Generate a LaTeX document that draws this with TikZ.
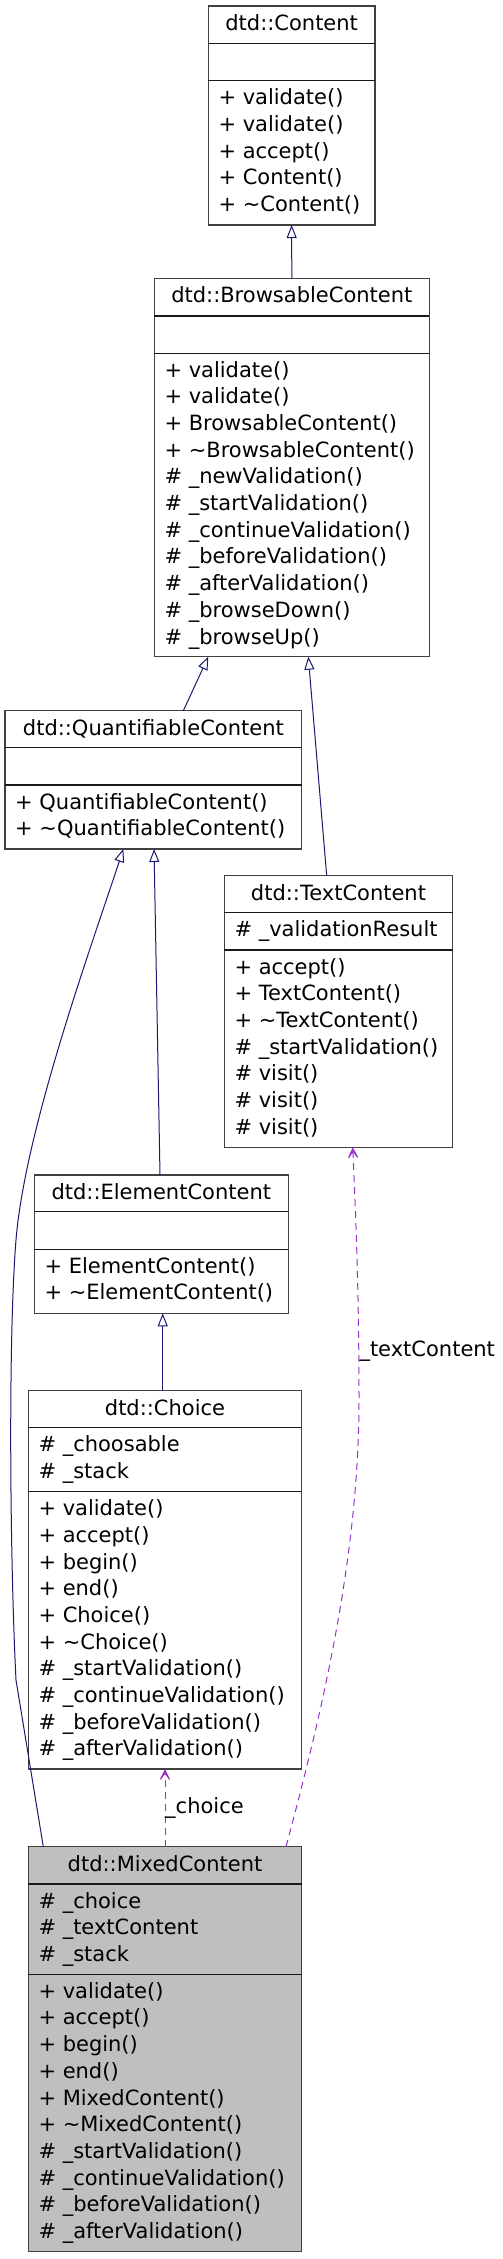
\documentclass[tikz,border=0pt]{standalone}
\usepackage{fontspec}
\setmainfont{DejaVu Sans}
\usetikzlibrary{arrows.meta}
\definecolor{edgeblue}{HTML}{191970}
\definecolor{depcol}{HTML}{9A32CD}
\definecolor{mixfill}{HTML}{BFBFBF}
\definecolor{boxline}{HTML}{404040}
\tikzset{
  classbox/.style={draw=boxline, line width=1.2pt, anchor=north west, inner sep=0pt, outer sep=0pt},
  sepline/.style={draw=black!90, line width=1.05pt},
  umlfont/.style={font=\fontsize{21}{26.67}\selectfont, inner sep=0pt},
  headtext/.style={umlfont, anchor=base},
  memtext/.style={umlfont, anchor=base west},
  lbl/.style={umlfont, anchor=base west},
  inh/.style={draw=edgeblue, line width=1pt, -{Triangle[open, length=13pt, width=10pt]}},
  dep/.style={draw=depcol, line width=1pt, dash pattern=on 7pt off 5pt, -{Stealth[length=15pt, width=15pt, inset=10pt]}}
}
\newcommand\umlclass[8]{%
  \node[classbox, fill=#8, minimum width={(#4-#2)*1pt}, minimum height={(#5-#3)*1pt}] (#1) at (#2,#3) {};
  \draw[sepline] (#2,#6) -- (#4,#6);
  \draw[sepline] (#2,#7) -- (#4,#7);
}
\newcommand\memlist[4]{%
  \foreach \t [count=\i from 0] in {#4} {\node[memtext] (#1\i) at ({#2},{#3+\i*26.67}) {\t};}
}
\begin{document}
\begin{tikzpicture}[x=1pt, y=-1pt]
\useasboundingbox (0,0) rectangle (503,2259);

% dtd::Content
\umlclass{content}{208.3}{6}{375}{225}{43.3}{80.7}{white}
\node[headtext] (content-h) at (291.65,30.3) {dtd::Content};
\memlist{content-m}{218.3}{104.7}{+ validate(),+ validate(),+ accept(),+ Content(),+ \textasciitilde Content()}

% dtd::BrowsableContent
\umlclass{browsable}{154.3}{278.3}{429.3}{656.7}{316}{353.3}{white}
\node[headtext] (browsable-h) at (291.8,302.6) {dtd::BrowsableContent};
\memlist{browsable-m}{164.3}{377.3}{+ validate(),+ validate(),+ BrowsableContent(),+ \textasciitilde BrowsableContent(),\# \_newValidation(),\# \_startValidation(),\# \_continueValidation(),\# \_beforeValidation(),\# \_afterValidation(),\# \_browseDown(),\# \_browseUp()}

% dtd::QuantifiableContent
\umlclass{quant}{5}{710.7}{301.7}{849}{747.7}{785}{white}
\node[headtext] (quant-h) at (153.35,735) {dtd::QuantifiableContent};
\memlist{quant-m}{15}{809}{+ QuantifiableContent(),+ \textasciitilde QuantifiableContent()}

% dtd::TextContent
\umlclass{text}{224.3}{875.7}{452.7}{1147.3}{912.7}{950}{white}
\node[headtext] (text-h) at (338.5,900) {dtd::TextContent};
\memlist{text-a}{234.3}{936.7}{\# \_validationResult}
\memlist{text-m}{234.3}{974}{+ accept(),+ TextContent(),+ \textasciitilde TextContent(),\# \_startValidation(),\# visit(),\# visit(),\# visit()}

% dtd::ElementContent
\umlclass{elem}{34.3}{1175}{288.3}{1313.3}{1211.7}{1249.3}{white}
\node[headtext] (elem-h) at (161.3,1199.3) {dtd::ElementContent};
\memlist{elem-m}{44.3}{1273.3}{+ ElementContent(),+ \textasciitilde ElementContent()}

% dtd::Choice
\umlclass{choice}{28.3}{1390.7}{301.7}{1769}{1427.7}{1491.7}{white}
\node[headtext] (choice-h) at (165,1415) {dtd::Choice};
\memlist{choice-a}{38.3}{1451.7}{\# \_choosable,\# \_stack}
\memlist{choice-m}{38.3}{1515.7}{+ validate(),+ accept(),+ begin(),+ end(),+ Choice(),+ \textasciitilde Choice(),\# \_startValidation(),\# \_continueValidation(),\# \_beforeValidation(),\# \_afterValidation()}

% dtd::MixedContent
\umlclass{mixed}{28.3}{1846.7}{301.7}{2251.7}{1884}{1974.3}{mixfill}
\node[headtext] (mixed-h) at (165,1871) {dtd::MixedContent};
\memlist{mixed-a}{38.3}{1908}{\# \_choice,\# \_textContent,\# \_stack}
\memlist{mixed-m}{38.3}{1998.3}{+ validate(),+ accept(),+ begin(),+ end(),+ MixedContent(),+ \textasciitilde MixedContent(),\# \_startValidation(),\# \_continueValidation(),\# \_beforeValidation(),\# \_afterValidation()}

% inheritance edges
\draw[inh] (browsable.north) -- (content.south);
\draw[inh] ([xshift=30pt]quant.north) -- ([xshift=-83.5pt]browsable.south);
\draw[inh] ([xshift=-11.8pt]text.north) -- ([xshift=16.5pt]browsable.south);
\draw[inh] ([xshift=-1.3pt]elem.north) -- ([xshift=0.7pt]quant.south);
\draw[inh] ([xshift=-2.3pt]choice.north) -- ([xshift=1.4pt]elem.south);
\draw[inh] ([xshift=-121.7pt]mixed.north) -- (16,1680)
  .. controls (10,1560) and (8,1340) .. (16,1240)
  .. controls (25,1130) and (90,950) .. ([xshift=-30pt]quant.south);

% usage edges
\draw[dep] (mixed.north) -- (choice.south);
\node[lbl] (lbl-choice) at (165,1813.3) {\_choice};
\draw[dep] ([xshift=121pt]mixed.north)
  .. controls (320,1720) and (359,1560) .. (359,1400)
  .. controls (359,1280) and (355,1200) .. ([xshift=14.2pt]text.south);
\node[lbl] (lbl-text) at (359.3,1356.7) {\_textContent};
\end{tikzpicture}
\end{document}
